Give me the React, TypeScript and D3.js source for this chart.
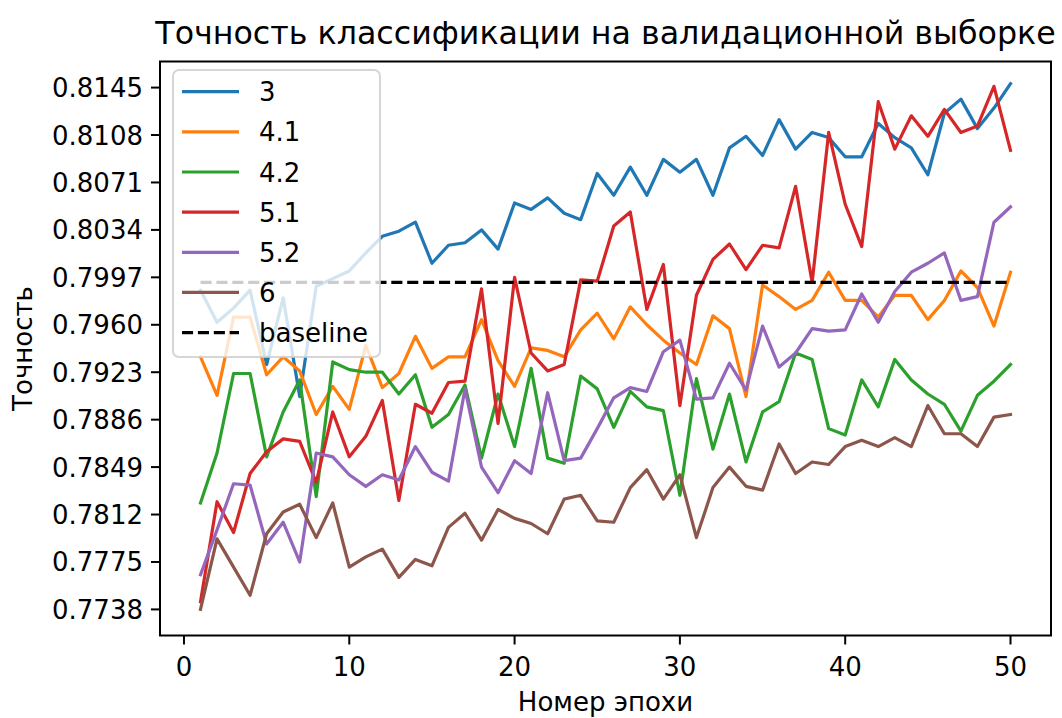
import React from "react";
import * as d3 from "d3";

// Epoch numbers (x axis)
const epochs = [
  1, 2, 3, 4, 5, 6, 7, 8, 9, 10, 11, 12, 13, 14, 15, 16, 17, 18, 19, 20, 21, 22, 23, 24, 25,
  26, 27, 28, 29, 30, 31, 32, 33, 34, 35, 36, 37, 38, 39, 40, 41, 42, 43, 44, 45, 46, 47, 48, 49, 50,
];

// Validation accuracy per model
const acc3 = [
  0.7987, 0.7962, 0.7973, 0.7987, 0.7929, 0.7981, 0.7904, 0.799, 0.7996, 0.8002, 0.8016, 0.8029,
  0.8033, 0.804, 0.8008, 0.8022, 0.8024, 0.8034, 0.8019, 0.8055, 0.805, 0.8059, 0.8047, 0.8042,
  0.8078, 0.8061, 0.8083, 0.8061, 0.8089, 0.8079, 0.8089, 0.8061, 0.8098, 0.8107, 0.8092, 0.812,
  0.8097, 0.811, 0.8106, 0.8091, 0.8091, 0.8117, 0.8106, 0.8098, 0.8077, 0.8125, 0.8136, 0.8113,
  0.8129, 0.8148,
];
const acc41 = [
  0.7935, 0.7905, 0.7966, 0.7966, 0.7921, 0.7935, 0.7924, 0.789, 0.7912, 0.7894, 0.7944, 0.7911,
  0.7922, 0.7951, 0.7926, 0.7935, 0.7935, 0.7964, 0.7932, 0.7912, 0.7942, 0.794, 0.7935, 0.7956,
  0.7969, 0.7949, 0.7974, 0.796, 0.7948, 0.7938, 0.7929, 0.7967, 0.7957, 0.7904, 0.7991, 0.7982,
  0.7972, 0.7979, 0.8001, 0.7979, 0.7979, 0.7966, 0.7983, 0.7983, 0.7964, 0.7979, 0.8002, 0.7989,
  0.7959, 0.8001,
];
const acc42 = [
  0.7821, 0.786, 0.7922, 0.7922, 0.7857, 0.7892, 0.7917, 0.7826, 0.7931, 0.7925, 0.7923, 0.7923,
  0.7906, 0.7921, 0.788, 0.789, 0.7913, 0.7856, 0.7906, 0.7865, 0.7926, 0.7856, 0.7852, 0.792,
  0.791, 0.788, 0.7908, 0.7896, 0.7893, 0.7827, 0.7918, 0.7863, 0.7906, 0.7853, 0.7892, 0.79,
  0.7938, 0.7933, 0.7879, 0.7874, 0.7917, 0.7896, 0.7933, 0.7917, 0.7906, 0.7898, 0.7877, 0.7905,
  0.7916, 0.7929,
];
const acc51 = [
  0.7744, 0.7822, 0.7798, 0.7844, 0.7861, 0.7871, 0.7869, 0.7837, 0.7892, 0.7857, 0.7873, 0.7901,
  0.7823, 0.7898, 0.7891, 0.7915, 0.7916, 0.7988, 0.7883, 0.7997, 0.7938, 0.7924, 0.7929, 0.7995,
  0.7994, 0.8037, 0.8048, 0.7972, 0.8007, 0.7897, 0.7983, 0.8011, 0.8023, 0.8003, 0.8022, 0.802,
  0.8068, 0.7993, 0.811, 0.8054, 0.8021, 0.8134, 0.8097, 0.8123, 0.8107, 0.8128, 0.811, 0.8115,
  0.8146, 0.8096,
];
const acc52 = [
  0.7765, 0.78, 0.7836, 0.7835, 0.7789, 0.7806, 0.7775, 0.786, 0.7857, 0.7843, 0.7834, 0.7843,
  0.7839, 0.7865, 0.7845, 0.7838, 0.791, 0.7849, 0.7829, 0.7854, 0.7844, 0.7907, 0.7854, 0.7856,
  0.7879, 0.7903, 0.7911, 0.7908, 0.7939, 0.7948, 0.7902, 0.7903, 0.793, 0.7909, 0.7959, 0.7927,
  0.7938, 0.7957, 0.7955, 0.7956, 0.7984, 0.7962, 0.7986, 0.8001, 0.8008, 0.8016, 0.7979, 0.7982,
  0.804, 0.8052,
];
const acc6 = [
  0.7738, 0.7793, 0.7771, 0.7749, 0.7797, 0.7814, 0.782, 0.7794, 0.7821, 0.7771, 0.7779, 0.7785,
  0.7763, 0.7777, 0.7772, 0.7802, 0.7813, 0.7792, 0.7816, 0.7809, 0.7805, 0.7797, 0.7824, 0.7827,
  0.7807, 0.7806, 0.7833, 0.7847, 0.7824, 0.7843, 0.7794, 0.7833, 0.7849, 0.7834, 0.7831, 0.7867,
  0.7844, 0.7853, 0.7851, 0.7865, 0.787, 0.7865, 0.7872, 0.7865, 0.7897, 0.7875, 0.7875, 0.7865,
  0.7888, 0.789,
];
const baselineAcc = 0.7993;

const seriesNames = ["3", "4.1", "4.2", "5.1", "5.2", "6"];
const seriesValues = [acc3, acc41, acc42, acc51, acc52, acc6];
const seriesColors = ["#1f77b4", "#ff7f0e", "#2ca02c", "#d62728", "#9467bd", "#8c564b"];

const yTicks = [
  0.7738, 0.7775, 0.7812, 0.7849, 0.7886, 0.7923, 0.796, 0.7997, 0.8034, 0.8071, 0.8108, 0.8145,
];
const xTicks = [0, 10, 20, 30, 40, 50];

const W = 1062;
const H = 718;
const plot = { left: 160, right: 1051, top: 61.5, bottom: 635.5 };
const FONT = "'DejaVu Sans', sans-serif";
const LINE_W = 3.2;

export default function App() {
  const xMin = d3.min(epochs)!;
  const xMax = d3.max(epochs)!;
  const xPad = (xMax - xMin) * 0.05;
  const x = d3
    .scaleLinear()
    .domain([xMin - xPad, xMax + xPad])
    .range([plot.left, plot.right]);

  const yLo = yTicks[0];
  const yHi = yTicks[yTicks.length - 1];
  const yPad = (yHi - yLo) * 0.05;
  const y = d3
    .scaleLinear()
    .domain([yLo - yPad, yHi + yPad])
    .range([plot.bottom, plot.top]);

  const line = d3
    .line<number>()
    .x((_, i) => x(epochs[i]))
    .y((d) => y(d));

  const baselinePath = line(epochs.map(() => baselineAcc)) || "";

  const legendItems = [
    ...seriesNames.map((n, i) => ({ name: n, color: seriesColors[i], dashed: false })),
    { name: "baseline", color: "#000000", dashed: true },
  ];
  const lg = { x: 173, y: 70, w: 207, h: 287, rowY0: 91.7, rowStep: 40.15 };

  return (
    <svg
      width={W}
      height={H}
      viewBox={`0 0 ${W} ${H}`}
      style={{ position: "absolute", left: 0, top: 0, background: "#ffffff" }}
      fontFamily={FONT}
    >
      <rect x={0} y={0} width={W} height={H} fill="#ffffff" />

      {/* title */}
      <text x={(plot.left + plot.right) / 2} y={44} textAnchor="middle" fontSize={31.7} fill="#000">
        Точность классификации на валидационной выборке
      </text>

      {/* series */}
      <g fill="none" strokeWidth={LINE_W} strokeLinejoin="round" strokeLinecap="square">
        {seriesValues.map((vals, i) => (
          <path key={seriesNames[i]} d={line(vals) || ""} stroke={seriesColors[i]} />
        ))}
        <path d={baselinePath} stroke="#000" strokeDasharray="11.1 4.8" strokeLinecap="butt" />
      </g>

      {/* axes frame */}
      <rect
        x={plot.left}
        y={plot.top}
        width={plot.right - plot.left}
        height={plot.bottom - plot.top}
        fill="none"
        stroke="#000"
        strokeWidth={2}
      />

      {/* y ticks */}
      <g fontSize={26} fill="#000">
        {yTicks.map((t) => (
          <g key={t}>
            <line x1={plot.left - 9} x2={plot.left} y1={y(t)} y2={y(t)} stroke="#000" strokeWidth={2} />
            <text x={plot.left - 17} y={y(t) + 9.5} textAnchor="end">
              {t.toFixed(4)}
            </text>
          </g>
        ))}
      </g>

      {/* x ticks */}
      <g fontSize={26} fill="#000">
        {xTicks.map((t) => (
          <g key={t}>
            <line x1={x(t)} x2={x(t)} y1={plot.bottom} y2={plot.bottom + 9} stroke="#000" strokeWidth={2} />
            <text x={x(t)} y={676} textAnchor="middle">
              {t}
            </text>
          </g>
        ))}
      </g>

      {/* axis labels */}
      <text x={(plot.left + plot.right) / 2} y={711} textAnchor="middle" fontSize={26} fill="#000">
        Номер эпохи
      </text>
      <text
        transform={`translate(32, ${(plot.top + plot.bottom) / 2}) rotate(-90)`}
        textAnchor="middle"
        fontSize={26}
        fill="#000"
      >
        Точность
      </text>

      {/* legend */}
      <g>
        <rect
          x={lg.x}
          y={lg.y}
          width={lg.w}
          height={lg.h}
          rx={6}
          fill="#ffffff"
          fillOpacity={0.8}
          stroke="#cccccc"
          strokeOpacity={0.8}
          strokeWidth={2}
        />
        {legendItems.map((it, i) => {
          const ry = lg.rowY0 + i * lg.rowStep;
          return (
            <g key={it.name}>
              <line
                x1={182}
                x2={239}
                y1={ry}
                y2={ry}
                stroke={it.color}
                strokeWidth={LINE_W}
                strokeDasharray={it.dashed ? "11.1 4.8" : undefined}
              />
              <text x={259} y={ry + 9.5} fontSize={26} fill="#000">
                {it.name}
              </text>
            </g>
          );
        })}
      </g>
    </svg>
  );
}
